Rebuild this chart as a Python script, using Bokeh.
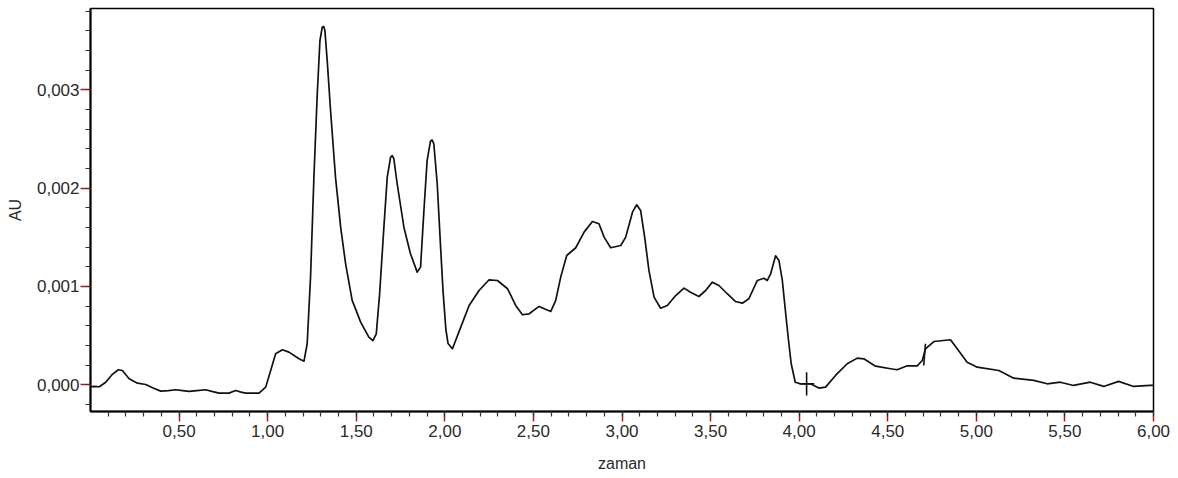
from bokeh.plotting import figure
from bokeh.models import Range1d, FixedTicker
from bokeh.embed import file_html
from bokeh.resources import INLINE

# ---- data ----
time_min = [0.00, 0.02, 0.05, 0.086, 0.12, 0.157, 0.18, 0.218, 0.265, 0.312, 0.35, 0.396, 0.44, 0.481,
            0.52, 0.556, 0.60, 0.650, 0.69, 0.725, 0.782, 0.819, 0.85, 0.876, 0.951, 0.989, 1.017,
            1.045, 1.083, 1.12, 1.177, 1.205, 1.223, 1.242, 1.261, 1.28, 1.295, 1.308, 1.316, 1.323, 1.336,
            1.355, 1.383, 1.412, 1.44, 1.477, 1.525, 1.571, 1.594, 1.613, 1.632, 1.656, 1.675, 1.694,
            1.703, 1.712, 1.731, 1.769, 1.806, 1.844, 1.863, 1.882, 1.90, 1.919, 1.928, 1.938, 1.957, 1.977, 1.99,
            2.006, 2.018, 2.043, 2.09, 2.137, 2.193, 2.25, 2.297, 2.354, 2.40, 2.438, 2.476, 2.532,
            2.565, 2.598, 2.626, 2.654, 2.688, 2.739, 2.786, 2.833, 2.870, 2.899, 2.936, 2.993, 3.021,
            3.059, 3.083, 3.105, 3.128, 3.152, 3.181, 3.218, 3.256, 3.303, 3.35, 3.387, 3.434, 3.472,
            3.51, 3.547, 3.594, 3.641, 3.679, 3.716, 3.764, 3.801, 3.82, 3.839, 3.867, 3.886, 3.905,
            3.923, 3.94, 3.955, 3.978, 4.007, 4.064, 4.111, 4.149, 4.205, 4.271, 4.328, 4.365, 4.431,
            4.516, 4.553, 4.61, 4.666, 4.695, 4.713, 4.76, 4.854, 4.892, 4.948, 5.005, 5.127, 5.211,
            5.324, 5.40, 5.474, 5.549, 5.643, 5.719, 5.803, 5.888, 5.982, 6.0]
absorbance_mAU = [-0.02, -0.017, -0.02, 0.026, 0.10, 0.153, 0.145, 0.061, 0.016, 0.003, -0.03, -0.065,
                  -0.06, -0.051, -0.06, -0.068, -0.06, -0.051, -0.07, -0.085, -0.085, -0.058, -0.075,
                  -0.085, -0.085, -0.024, 0.145, 0.315, 0.356, 0.332, 0.264, 0.240, 0.417, 1.095,
                  2.112, 2.96, 3.50, 3.638, 3.645, 3.604, 3.30, 2.79, 2.11, 1.603, 1.23, 0.858, 0.637, 0.484,
                  0.45, 0.518, 0.926, 1.603, 2.112, 2.315, 2.33, 2.30, 2.045, 1.603, 1.333, 1.146, 1.197,
                  1.773, 2.28, 2.478, 2.49, 2.45, 2.045, 1.37, 0.95, 0.56, 0.42, 0.366, 0.586, 0.807, 0.959,
                  1.068, 1.061, 0.977, 0.807, 0.712, 0.722, 0.797, 0.77, 0.746, 0.858, 1.095, 1.315,
                  1.394, 1.553, 1.661, 1.638, 1.502, 1.394, 1.417, 1.502, 1.756, 1.831, 1.773, 1.502,
                  1.163, 0.891, 0.779, 0.807, 0.908, 0.983, 0.942, 0.898, 0.959, 1.044, 1.010, 0.926,
                  0.847, 0.830, 0.875, 1.061, 1.084, 1.061, 1.129, 1.312, 1.264, 1.061, 0.74, 0.45,
                  0.214, 0.026, 0.010, 0.010, -0.034, -0.024, 0.095, 0.214, 0.271, 0.264, 0.189,
                  0.163, 0.153, 0.193, 0.193, 0.247, 0.366, 0.440, 0.458, 0.366, 0.230, 0.179, 0.145,
                  0.067, 0.044, 0.010, 0.026, -0.007, 0.026, -0.017, 0.034, -0.017, -0.007, -0.005]
absorbance = [v * 1e-3 for v in absorbance_mAU]

# integration marks (segments): start/end time, start/end AU
mark_t0 = [4.042, 4.000, 4.703]
mark_t1 = [4.042, 4.085, 4.713]
mark_v0 = [0.000128, 0.000010, 0.000196]
mark_v1 = [-0.000109, 0.000010, 0.000417]

x_ticks = [0.5, 1.0, 1.5, 2.0, 2.5, 3.0, 3.5, 4.0, 4.5, 5.0, 5.5, 6.0]
x_tick_labels = ["0,50", "1,00", "1,50", "2,00", "2,50", "3,00", "3,50", "4,00", "4,50", "5,00", "5,50", "6,00"]
y_ticks = [0.0, 0.001, 0.002, 0.003]
y_tick_labels = ["0,000", "0,001", "0,002", "0,003"]
x_minor = [round(0.1 * i, 1) for i in range(1, 61)]
y_minor = [round(-0.0002 + 0.0002 * i, 4) for i in range(0, 21)]

FONT = "Liberation Sans"
TXT = "#2a2a2a"
RED = "#b01818"

p = figure(width=1178, height=478, output_backend="svg", toolbar_location=None,
           x_range=Range1d(0.0, 6.0), y_range=Range1d(-0.000272, 0.003828),
           min_border_left=90, min_border_right=25, min_border_top=8, min_border_bottom=67)
p.background_fill_color = "white"
p.border_fill_color = "white"
p.outline_line_color = "black"
p.outline_line_width = 1.5
p.xgrid.visible = False
p.ygrid.visible = False

p.line(time_min, absorbance, line_color="#111111", line_width=1.7, line_join="round")
p.segment(x0=mark_t0, y0=mark_v0, x1=mark_t1, y1=mark_v1, line_color="#111111", line_width=1.6)

for ax, ticks, minor, labels in ((p.xaxis[0], x_ticks, x_minor, x_tick_labels),
                                 (p.yaxis[0], y_ticks, y_minor, y_tick_labels)):
    ax.ticker = FixedTicker(ticks=ticks, minor_ticks=minor)
    ax.major_label_overrides = {t: l for t, l in zip(ticks, labels)}
    ax.axis_line_color = "black"
    ax.axis_line_width = 2
    ax.major_tick_line_color = RED
    ax.major_tick_line_width = 1.5
    ax.major_tick_out = 10
    ax.major_tick_in = 0
    ax.minor_tick_line_color = "#333333"
    ax.minor_tick_line_width = 1.2
    ax.minor_tick_out = 5
    ax.minor_tick_in = 0
    ax.major_label_text_font = FONT
    ax.major_label_text_font_size = "17px"
    ax.major_label_text_color = TXT
    ax.axis_label_text_font = FONT
    ax.axis_label_text_font_size = "16px"
    ax.axis_label_text_font_style = "normal"
    ax.axis_label_text_color = TXT

p.xaxis.axis_label = "zaman"
p.xaxis.major_label_standoff = 3
p.xaxis.axis_label_standoff = 15
p.yaxis.axis_label = "AU"
p.yaxis.major_label_standoff = 1
p.yaxis.axis_label_standoff = 10

with open("out.html", "w") as f:
    f.write(file_html(p, INLINE))
